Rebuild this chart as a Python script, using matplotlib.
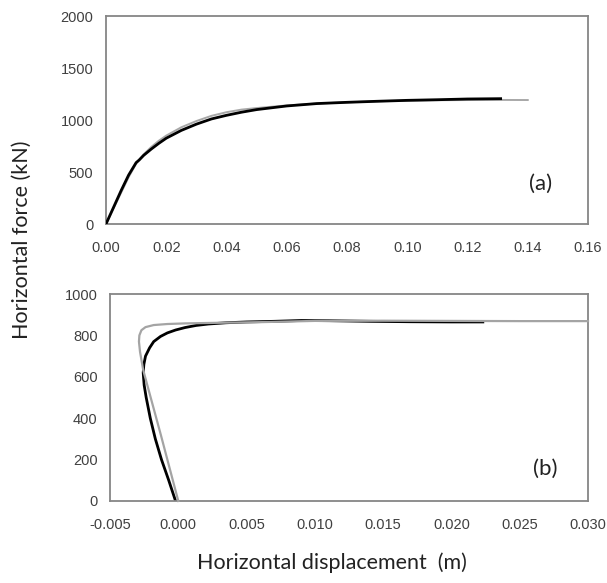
import matplotlib
matplotlib.use("Agg")
import matplotlib.pyplot as plt

# ---- data (a) ----
a_black_x = [0, 0.0025, 0.005, 0.0075, 0.010, 0.011, 0.0125, 0.015, 0.0175, 0.020, 0.025, 0.030,
             0.035, 0.040, 0.045, 0.050, 0.060, 0.070, 0.080, 0.090, 0.100, 0.110, 0.120, 0.131]
a_black_y = [0, 160, 320, 470, 590, 615, 660, 720, 775, 825, 900, 960,
             1010, 1045, 1075, 1100, 1135, 1158, 1170, 1180, 1189, 1195, 1202, 1205]
a_gray_x = [0, 0.0025, 0.005, 0.0075, 0.010, 0.0125, 0.015, 0.0175, 0.020, 0.025, 0.030, 0.035,
            0.040, 0.045, 0.050, 0.060, 0.070, 0.080, 0.090, 0.100, 0.110, 0.120, 0.130, 0.140]
a_gray_y = [0, 150, 300, 450, 580, 670, 740, 800, 850, 930, 990, 1040,
            1075, 1100, 1115, 1140, 1158, 1170, 1180, 1186, 1190, 1192, 1193, 1192]

# ---- data (b) ----
b_black_x = [-0.0002, -0.0007, -0.00123, -0.00168, -0.00205, -0.00235, -0.0025, -0.00257, -0.00252,
             -0.0024, -0.0021, -0.0018, -0.0013, -0.0008, -0.0002, 0.0005, 0.0013, 0.0022, 0.0035,
             0.005, 0.007, 0.009, 0.011, 0.014, 0.017, 0.020, 0.0223]
b_black_y = [0, 100, 200, 300, 400, 500, 560, 620, 660,
             700, 740, 770, 795, 812, 826, 838, 848, 855, 861,
             865, 868, 872, 871, 868, 866, 865, 865]
b_gray_x = [0.0000, -0.00128, -0.00257, -0.0028, -0.00288, -0.00285, -0.0027, -0.0024, -0.0018,
            -0.0008, 0.0005, 0.003, 0.006, 0.010, 0.015, 0.020, 0.025, 0.030]
b_gray_y = [0, 320, 633, 720, 770, 800, 825, 840, 850,
            855, 858, 861, 864, 870, 871, 870, 869, 869]

a_xticks = [0.00, 0.02, 0.04, 0.06, 0.08, 0.10, 0.12, 0.14, 0.16]
a_yticks = [0, 500, 1000, 1500, 2000]
b_xticks = [-0.005, 0.000, 0.005, 0.010, 0.015, 0.020, 0.025, 0.030]
b_yticks = [0, 200, 400, 600, 800, 1000]

W, H = 607, 583
fig = plt.figure(figsize=(W / 100, H / 100), dpi=100)

def px_axes(l, t, r, b):
    return fig.add_axes([l / W, 1 - b / H, (r - l) / W, (b - t) / H])

ax1 = px_axes(106, 16, 588, 224)
ax2 = px_axes(110, 294, 588, 501)

spine_c = "#868686"
tick_c = "#404040"
for ax in (ax1, ax2):
    for s in ax.spines.values():
        s.set_color(spine_c)
        s.set_linewidth(1.3)
    ax.tick_params(length=0, labelsize=10.5, labelcolor=tick_c)
    ax.tick_params(axis="x", pad=12)
    ax.tick_params(axis="y", pad=9)

ax1.plot(a_gray_x, a_gray_y, color="#a8a8a8", lw=1.4, zorder=2)
ax1.plot(a_black_x, a_black_y, color="black", lw=2.0, zorder=3)
ax1.set_xlim(0, 0.16)
ax1.set_ylim(0, 2000)
ax1.set_xticks(a_xticks)
ax1.set_xticklabels([f"{v:.2f}" for v in a_xticks], family="Liberation Sans")
ax1.set_yticks(a_yticks)
ax1.set_yticklabels([str(v) for v in a_yticks], family="Liberation Sans")
ax1.text(0.902, 0.192, "(a)", transform=ax1.transAxes, fontsize=16, family="Lato",
         ha="center", va="center", color="#222222")

ax2.plot(b_black_x, b_black_y, color="black", lw=2.0, zorder=2)
ax2.plot(b_gray_x, b_gray_y, color="#a4a4a4", lw=1.6, zorder=3, clip_on=False)
ax2.set_xlim(-0.005, 0.030)
ax2.set_ylim(0, 1000)
ax2.set_xticks(b_xticks)
ax2.set_xticklabels([f"{v:.3f}" for v in b_xticks], family="Liberation Sans")
ax2.set_yticks(b_yticks)
ax2.set_yticklabels([str(v) for v in b_yticks], family="Liberation Sans")
ax2.text(0.91, 0.155, "(b)", transform=ax2.transAxes, fontsize=16, family="Lato",
         ha="center", va="center", color="#222222")

fig.text(332 / W, 1 - 563 / H, "Horizontal displacement  (m)", fontsize=15.5, family="Lato",
         ha="center", va="center", color="#222222")
fig.text(22 / W, 1 - 240 / H, "Horizontal force (kN)", fontsize=15.5, family="Lato",
         ha="center", va="center", rotation=90, color="#222222")

fig.savefig("out.png", dpi=100)
